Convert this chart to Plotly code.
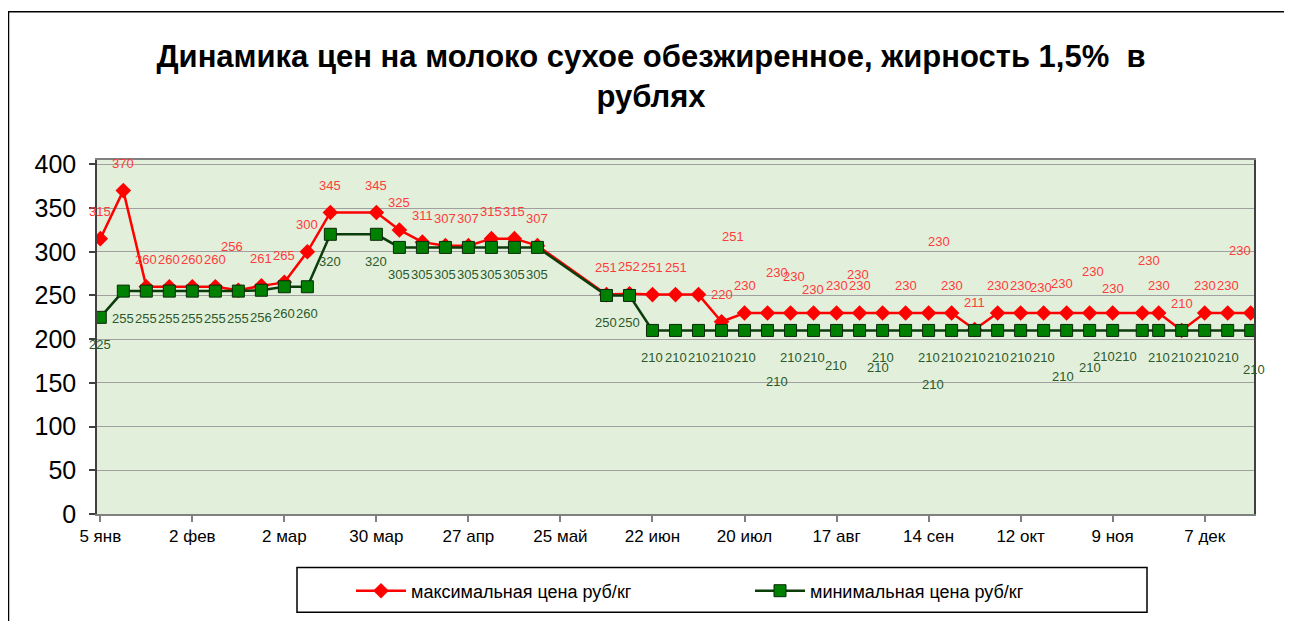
import plotly.graph_objects as go

# ---------------- data ----------------
dates = [
    "2009-01-05", "2009-01-12", "2009-01-19", "2009-01-26",
    "2009-02-02", "2009-02-09", "2009-02-16", "2009-02-23",
    "2009-03-02", "2009-03-09", "2009-03-16", "2009-03-30",
    "2009-04-06", "2009-04-13", "2009-04-20", "2009-04-27",
    "2009-05-04", "2009-05-11", "2009-05-18",
    "2009-06-08", "2009-06-15", "2009-06-22", "2009-06-29",
    "2009-07-06", "2009-07-13", "2009-07-20", "2009-07-27",
    "2009-08-03", "2009-08-10", "2009-08-17", "2009-08-24", "2009-08-31",
    "2009-09-07", "2009-09-14", "2009-09-21", "2009-09-28",
    "2009-10-05", "2009-10-12", "2009-10-19", "2009-10-26",
    "2009-11-02", "2009-11-09", "2009-11-18", "2009-11-23", "2009-11-30",
    "2009-12-07", "2009-12-14", "2009-12-21",
]

max_price = [
    315, 370, 260, 260,
    260, 260, 256, 261,
    265, 300, 345, 345,
    325, 311, 307, 307,
    315, 315, 307,
    251, 252, 251, 251,
    251, 220, 230, 230,
    230, 230, 230, 230, 230,
    230, 230, 230, 211,
    230, 230, 230, 230,
    230, 230, 230, 230, 210,
    230, 230, 230,
]

min_price = [
    225, 255, 255, 255,
    255, 255, 255, 256,
    260, 260, 320, 320,
    305, 305, 305, 305,
    305, 305, 305,
    250, 250, 210, 210,
    210, 210, 210, 210,
    210, 210, 210, 210, 210,
    210, 210, 210, 210,
    210, 210, 210, 210,
    210, 210, 210, 210, 210,
    210, 210, 210,
]

tick_dates = ["2009-01-05", "2009-02-02", "2009-03-02", "2009-03-30", "2009-04-27",
              "2009-05-25", "2009-06-22", "2009-07-20", "2009-08-17", "2009-09-14",
              "2009-10-12", "2009-11-09", "2009-12-07"]
tick_labels = ["5 янв", "2 фев", "2 мар", "30 мар", "27 апр", "25 май", "22 июн",
               "20 июл", "17 авг", "14 сен", "12 окт", "9 ноя", "7 дек"]

y_ticks = [0, 50, 100, 150, 200, 250, 300, 350, 400]

series_max_name = "максимальная цена руб/кг"
series_min_name = "минимальная цена руб/кг"
title_text = "Динамика цен на молоко сухое обезжиренное, жирность 1,5%  в<br>рублях"

# ---------------- label placement (style, pixel shifts) ----------------
red_default_shift = (0, 27)
red_label_shift = {
    "2009-02-16": (-6, 44), "2009-07-06": (34, 58), "2009-07-27": (9, 40),
    "2009-08-03": (3, 36), "2009-08-10": (-1, 23), "2009-08-31": (-25, 38),
    "2009-09-14": (10, 71), "2009-10-19": (-3, 25), "2009-10-26": (-5, 29),
    "2009-11-02": (3, 41), "2009-11-09": (0, 24), "2009-11-18": (7, 52),
    "2009-12-21": (-11, 62),
}
green_default_shift = (0, -27)
green_label_shift = {
    "2009-07-27": (9, -51), "2009-08-17": (-1, -35), "2009-08-24": (18, -37),
    "2009-09-07": (27, -54), "2009-10-26": (-4, -46), "2009-11-02": (0, -37),
    "2009-11-09": (-9, -26), "2009-11-18": (-16, -26), "2009-12-21": (3, -39),
}

FONT = "Liberation Sans, Arial, sans-serif"
RED = "#FF0000"
RED_TXT = "#FF3B3B"
GREEN_LINE = "#0B3D0B"
GREEN_FILL = "#008000"
GREEN_TXT = "#2A5A2A"

fig = go.Figure()

fig.add_trace(go.Scatter(
    x=dates, y=max_price, name=series_max_name, mode="lines+markers",
    line=dict(color=RED, width=2.5),
    marker=dict(symbol="diamond", size=12, color=RED),
))
fig.add_trace(go.Scatter(
    x=dates, y=min_price, name=series_min_name, mode="lines+markers",
    line=dict(color=GREEN_LINE, width=2.5),
    marker=dict(symbol="square", size=12, color=GREEN_FILL,
                line=dict(color="#0A2A0A", width=1)),
))

annotations = []
for d, v in zip(dates, max_price):
    dx, dy = red_label_shift.get(d, red_default_shift)
    annotations.append(dict(x=d, y=v, xref="x", yref="y", text=str(v), showarrow=False,
                            xshift=dx, yshift=dy,
                            font=dict(family=FONT, size=13, color=RED_TXT)))
for d, v in zip(dates, min_price):
    dx, dy = green_label_shift.get(d, green_default_shift)
    annotations.append(dict(x=d, y=v, xref="x", yref="y", text=str(v), showarrow=False,
                            xshift=dx, yshift=dy,
                            font=dict(family=FONT, size=13, color=GREEN_TXT)))

# page has an 8px body margin: work in page pixels, convert to figure pixels
OFF = 8
W, H = 1292 - OFF, 629 - 2 * OFF
L, R, T, B = 97 - OFF, 1254 - OFF, 160 - OFF, 517 - OFF
pw, ph = R - L, B - T


def px_x(p):  # page pixel -> paper x
    return (p - OFF - L) / pw


def px_y(p):  # page pixel -> paper y
    return (B - (p - OFF)) / ph


fig.update_layout(
    width=W, height=H,
    margin=dict(l=L, r=W - R, t=T, b=H - B, pad=0),
    paper_bgcolor="white",
    plot_bgcolor="#E2EFDA",
    font=dict(family=FONT, color="black"),
    title=dict(text=title_text, x=(651 - OFF) / W, xanchor="center",
               y=1 - 59 / H, yanchor="top", yref="container",
               font=dict(family=FONT, size=31, color="black", weight="bold")),
    showlegend=True,
    legend=dict(orientation="h", x=px_x(351), xanchor="left", y=px_y(576), yanchor="top",
                borderwidth=0, bgcolor="rgba(0,0,0,0)",
                font=dict(family=FONT, size=18, color="black"),
                entrywidth=334, entrywidthmode="pixels",
                itemwidth=50),
    annotations=annotations,
    shapes=[
        dict(type="rect", xref="paper", yref="paper",
             x0=px_x(8.5), x1=px_x(1285), y0=px_y(680), y1=px_y(10.5),
             line=dict(color="black", width=1.5), fillcolor="rgba(0,0,0,0)", layer="below"),
        dict(type="rect", xref="paper", yref="paper",
             x0=px_x(297), x1=px_x(1147), y0=px_y(616), y1=px_y(571),
             line=dict(color="black", width=1.5), fillcolor="white", layer="below"),
    ],
)

fig.update_xaxes(
    type="date", range=["2009-01-04", "2009-12-22"],
    tickmode="array", tickvals=tick_dates, ticktext=tick_labels,
    ticks="outside", ticklen=6, tickcolor="#808080", tickwidth=1.5,
    tickfont=dict(family=FONT, size=17, color="black"),
    showgrid=False, showline=True, linecolor="#808080", linewidth=1.5, mirror=True,
    zeroline=False,
)
fig.update_yaxes(
    range=[0, 405], tickmode="array", tickvals=y_ticks,
    ticks="outside", ticklen=6, tickcolor="#404040", tickwidth=1.5,
    ticklabelstandoff=8,
    tickfont=dict(family=FONT, size=25, color="black"),
    showgrid=True, gridcolor="#A0A0A0", gridwidth=1.2,
    showline=True, linecolor="#404040", linewidth=1.5, mirror=True,
    zeroline=False,
)

fig.write_html("out.html")
